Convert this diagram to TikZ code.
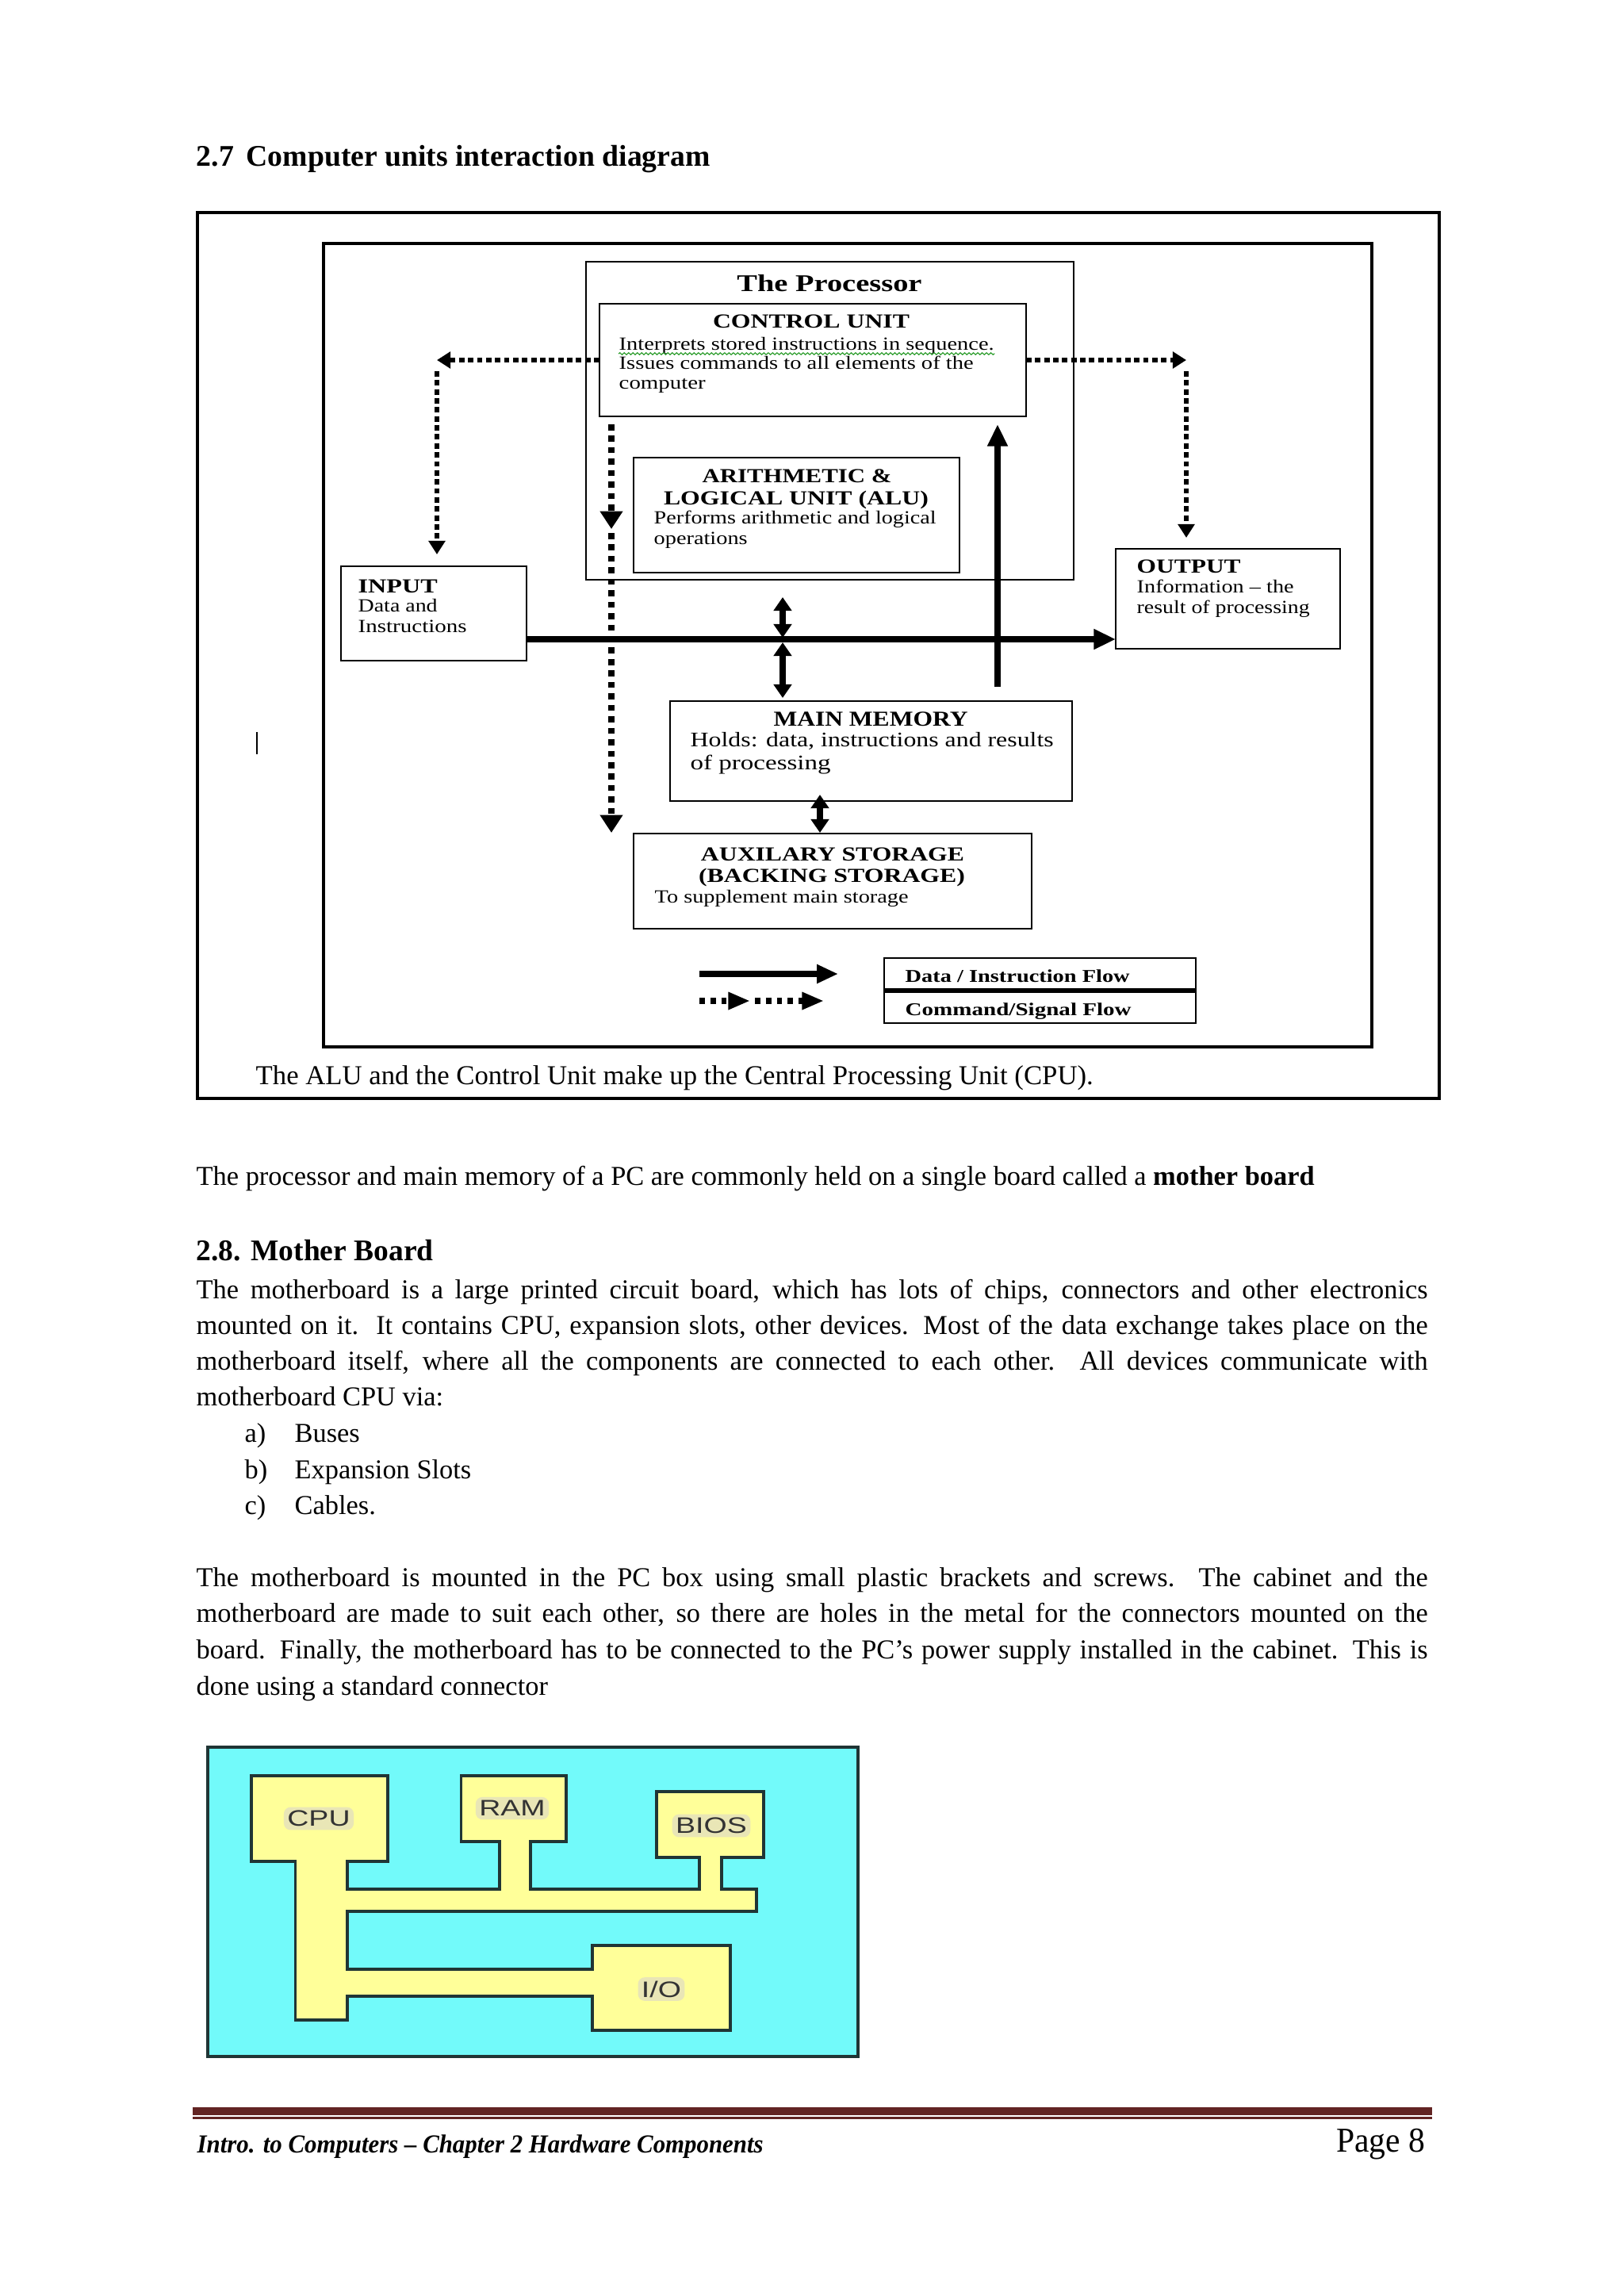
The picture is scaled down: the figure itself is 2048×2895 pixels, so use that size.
\documentclass[tikz,border=0pt]{standalone}
\usepackage{fontspec}
\setmainfont{Liberation Serif}
\setsansfont{Liberation Sans}
\usepackage{graphicx}
\usetikzlibrary{arrows.meta,fit,decorations.pathmorphing}
\newdimen\px \px=0.2907pt
\newcommand\fitw[2]{\resizebox{#1\px}{\height}{#2}}
\newcommand\jline[1]{\makebox[1553\px][s]{#1}}
\definecolor{maroonline}{HTML}{622423}
\definecolor{mbcyan}{HTML}{72FAFA}
\definecolor{mbyellow}{HTML}{FFFF99}
\definecolor{mbline}{HTML}{203535}
\definecolor{mbtext}{HTML}{333333}
\definecolor{glowfill}{HTML}{E9E6B6}
\definecolor{spellgreen}{HTML}{2E9E2E}
\newcommand\mbl[1]{\scalebox{1.33}[1]{#1}}

\begin{document}
\begin{tikzpicture}[x=0.2907pt,y=-0.2907pt,
  box/.style={draw, line width=0.85pt, inner sep=0pt, outer sep=0pt},
  ttl/.style={inner sep=0pt, anchor=base, font=\fontsize{7.3}{8}\selectfont\bfseries},
  ttlw/.style={inner sep=0pt, anchor=base west, font=\fontsize{7.3}{8}\selectfont\bfseries},
  txt/.style={inner sep=0pt, anchor=base west, font=\fontsize{6.8}{8}\selectfont},
  cmd/.style={line width=1.7pt, dash pattern=on 2pt off 1.3pt},
  cmdtip/.style={-{Triangle[length=5pt,width=6pt]}},
  cmdb/.style={line width=2.5pt, dash pattern=on 2.2pt off 2pt, -{Triangle[length=6.5pt,width=8pt]}},
  data/.style={line width=2.6pt, -{Triangle[length=8pt,width=7pt]}},
  dbl/.style={line width=2.3pt, {Triangle[length=5pt,width=6.5pt]}-{Triangle[length=5pt,width=6.5pt]}},
  body/.style={inner sep=0pt, anchor=base west, font=\fontsize{10}{12}\selectfont},
  hd/.style={inner sep=0pt, anchor=base west, font=\fontsize{11}{13}\selectfont\bfseries},
  mbt/.style={inner sep=1.3pt, text=mbtext, fill=glowfill, rounded corners=2.5pt, font=\sffamily\fontsize{8.2}{9}\selectfont}
]
\fill[white] (0,0) rectangle (2048,2895);
\useasboundingbox (0,0) rectangle (2048,2895);

% ---------- heading ----------
\node[hd] (h27n) at (247,209) {2.7};
\node[hd] (h27t) at (310,209) {\fitw{585}{Computer units interaction diagram}};

% ---------- diagram frames and boxes ----------
\node[box, line width=1.3pt, fit={(249,268) (1815,1385)}] (outer) {};
\node[box, line width=0.9pt, fit={(408,307) (1730,1320)}] (inner) {};
\node[box, fit={(739,330) (1354,731)}] (proc) {};
\node[box, fit={(756,383) (1294,525)}] (cu) {};
\node[box, fit={(799,577) (1210,722)}] (alu) {};
\node[box, fit={(430,714) (664,833)}] (inp) {};
\node[box, fit={(1407,692) (1690,818)}] (outp) {};
\node[box, fit={(845,884) (1352,1010)}] (mm) {};
\node[box, fit={(799,1051) (1301,1171)}] (aux) {};
\node[box, fit={(1115,1208) (1508,1249)}] (leg1) {};
\node[box, fit={(1115,1249) (1508,1290)}] (leg2) {};
\draw[line width=1.8pt] (leg1.south west) -- (leg1.south east);

% ---------- diagram texts ----------
\node[ttl, font=\fontsize{8.8}{10}\selectfont\bfseries] (tproc) at (1046,367) {\fitw{233}{The Processor}};
\node[ttl] (tcu) at (1023,413) {\fitw{248}{CONTROL UNIT}};
\node[txt] (cu1) at (780,441) {\fitw{473}{Interprets stored instructions in sequence.}};
\node[txt] (cu2) at (780,465) {\fitw{447}{Issues commands to all elements of the}};
\node[txt] (cu3) at (780,490) {\fitw{109}{computer}};
\draw[spellgreen, line width=0.35pt, decorate, decoration={snake, amplitude=0.35pt, segment length=1.6pt}] (cu1.base west) ++(0,5) coordinate (sq1) -- (sq1 -| cu1.base east);

\node[ttl] (talu1) at (1005,608) {\fitw{239}{ARITHMETIC \&}};
\node[ttl] (talu2) at (1004,636) {\fitw{334}{LOGICAL UNIT (ALU)}};
\node[txt] (alu1) at (824,660) {\fitw{356}{Performs arithmetic and logical}};
\node[txt] (alu2) at (824,686) {\fitw{118}{operations}};

\node[ttlw] (tin) at (451,747) {\fitw{100}{INPUT}};
\node[txt] (in1) at (451,771) {\fitw{100}{Data and}};
\node[txt] (in2) at (451,797) {\fitw{137}{Instructions}};

\node[ttlw] (tout) at (1433,722) {\fitw{131}{OUTPUT}};
\node[txt] (out1) at (1433,747) {\fitw{198}{Information – the}};
\node[txt] (out2) at (1433,773) {\fitw{218}{result of processing}};

\node[ttl, font=\fontsize{7.8}{9}\selectfont\bfseries] (tmm) at (1098,915) {\fitw{245}{MAIN MEMORY}};
\node[txt, font=\fontsize{7.6}{9}\selectfont] (mm1) at (870,941) {\fitw{458}{Holds: data, instructions and results}};
\node[txt, font=\fontsize{7.6}{9}\selectfont] (mm2) at (870,970) {\fitw{177}{of processing}};

\node[ttl] (taux1) at (1050,1085) {\fitw{332}{AUXILARY STORAGE}};
\node[ttl] (taux2) at (1049,1112) {\fitw{336}{(BACKING STORAGE)}};
\node[txt] (aux1) at (825,1138) {\fitw{320}{To supplement main storage}};

\node[ttlw, font=\fontsize{6.6}{8}\selectfont\bfseries] (lg1) at (1141,1238) {\fitw{283}{Data / Instruction Flow}};
\node[ttlw, font=\fontsize{6.6}{8}\selectfont\bfseries] (lg2) at (1141,1280) {\fitw{285}{Command/Signal Flow}};

\node[txt, font=\fontsize{10}{12}\selectfont] (cap) at (322,1367) {\fitw{1056}{The ALU and the Control Unit make up the Central Processing Unit (CPU).}};

% ---------- connectors ----------
\coordinate (cl) at (551,454);
\coordinate (clv) at (551,468);
\coordinate (clb) at (551,699);
\coordinate (cr) at (1496,454);
\coordinate (crv) at (1496,468);
\coordinate (crb) at (1496,678);
\draw[cmd, cmdtip] (cu.west) -- (cl);
\draw[cmd, cmdtip] (clv) -- (clb);
\draw[cmd, cmdtip] (cu.east) -- (cr);
\draw[cmd, cmdtip] (crv) -- (crb);

\coordinate (cvt) at (771,535);
\coordinate (cvm) at (771,667);
\coordinate (cvn) at (771,672);
\coordinate (cvb) at (771,1050);
\draw[cmdb] (cvt) -- (cvm);
\draw[cmdb] (cvn) -- (cvb);

\coordinate (busy) at (0,806);
\draw[data] (inp.east |- busy) -- (outp.west |- busy);
\coordinate (upb) at (1258,866);
\coordinate (upt) at (1258,535);
\draw[data] (upb) -- (upt);

\coordinate (d1a) at (987,753);
\coordinate (d1b) at (987,804);
\coordinate (d2a) at (987,810);
\coordinate (d2b) at (987,880);
\coordinate (d3a) at (1034,1002);
\coordinate (d3b) at (1034,1050);
\draw[dbl] (d1a) -- (d1b);
\draw[dbl] (d2a) -- (d2b);
\draw[dbl] (d3a) -- (d3b);

% legend arrows
\coordinate (ls1) at (882,1228);
\coordinate (ls2) at (1057,1228);
\draw[line width=2.3pt, -{Triangle[length=7.8pt,width=6.5pt]}] (ls1) -- (ls2);
\coordinate (ld1) at (882,1262);
\coordinate (ldm) at (946,1262);
\coordinate (ldn) at (952,1262);
\coordinate (ld2) at (1039,1262);
\draw[line width=2.3pt, dash pattern=on 2pt off 2pt, -{Triangle[length=8pt,width=6pt]}] (ld1) -- (ldm);
\draw[line width=2.3pt, dash pattern=on 2pt off 2pt, -{Triangle[length=8pt,width=6pt]}] (ldn) -- (ld2);

% text cursor
\coordinate (cur1) at (324,923);
\coordinate (cur2) at (324,951);
\draw[line width=0.7pt] (cur1) -- (cur2);

% ---------- body text ----------
\node[body] (p0) at (247,1494) {The processor and main memory of a PC are commonly held on a single board called a \textbf{mother board}};
\node[hd] (h28) at (247,1589) {\fitw{299}{2.8. Mother Board}};
\node[body] (p1a) at (247,1637) {\jline{The motherboard is a large printed circuit board, which has lots of chips, connectors and other electronics}};
\node[body] (p1b) at (247,1682) {\jline{mounted on it.\ \ It contains CPU, expansion slots, other devices. Most of the data exchange takes place on the}};
\node[body] (p1c) at (247,1727) {\jline{motherboard itself, where all the components are connected to each other. All devices communicate with}};
\node[body] (p1d) at (247,1772) {motherboard CPU via:};
\node[body] (la) at (308,1818) {a)};
\node[body] (lat) at (371,1818) {Buses};
\node[body] (lb) at (308,1864) {b)};
\node[body] (lbt) at (371,1864) {Expansion Slots};
\node[body] (lc) at (308,1909) {c)};
\node[body] (lct) at (371,1909) {Cables.};
\node[body] (p2a) at (247,2000) {\jline{The motherboard is mounted in the PC box using small plastic brackets and screws. The cabinet and the}};
\node[body] (p2b) at (247,2045) {\jline{motherboard are made to suit each other, so there are holes in the metal for the connectors mounted on the}};
\node[body] (p2c) at (247,2091) {\jline{board. Finally, the motherboard has to be connected to the PC’s power supply installed in the cabinet. This is}};
\node[body] (p2d) at (247,2137) {done using a standard connector};

% ---------- motherboard figure ----------
\draw[fill=mbcyan, draw=mbline, line width=1pt] (262,2203) rectangle (1082,2593);
\draw[fill=mbyellow, draw=mbline, line width=1.1pt]
  (316.7,2239) -- (488.9,2239) -- (488.9,2347) -- (438.1,2347) -- (438.1,2382)
  -- (630.2,2382) -- (630.2,2322) -- (581.4,2322) -- (581.4,2239) -- (713.8,2239)
  -- (713.8,2322) -- (669,2322) -- (669,2382) -- (881.9,2382) -- (881.9,2342)
  -- (828.2,2342) -- (828.2,2259) -- (962.6,2259) -- (962.6,2342) -- (909.8,2342)
  -- (909.8,2382) -- (953.6,2382) -- (953.6,2410) -- (438.1,2410) -- (438.1,2483)
  -- (746.6,2483) -- (746.6,2453) -- (920.8,2453) -- (920.8,2560) -- (746.6,2560)
  -- (746.6,2517) -- (438.1,2517) -- (438.1,2547) -- (372.5,2547) -- (372.5,2347)
  -- (316.7,2347) -- cycle;
\node[mbt] (mcpu) at (402,2293) {\mbl{CPU}};
\node[mbt] (mram) at (646,2280) {\mbl{RAM}};
\node[mbt] (mbios) at (897,2302) {\mbl{BIOS}};
\node[mbt] (mio) at (834,2508) {\mbl{I/O}};

% ---------- footer ----------
\coordinate (fl1) at (243,2661.7);
\coordinate (fr1) at (1806,2661.7);
\coordinate (fl2) at (243,2670.7);
\coordinate (fr2) at (1806,2670.7);
\draw[maroonline, line width=2.9pt] (fl1) -- (fr1);
\draw[maroonline, line width=0.8pt] (fl2) -- (fr2);
\node[inner sep=0pt, anchor=base west, font=\fontsize{9.5}{11}\selectfont\bfseries\itshape] (foot) at (248,2714) {\fitw{714}{Intro. to Computers – Chapter 2 Hardware Components}};
\node[inner sep=0pt, anchor=base east, font=\fontsize{12.8}{14}\selectfont] (pg) at (1798,2713) {\fitw{112}{Page 8}};
\end{tikzpicture}
\end{document}
